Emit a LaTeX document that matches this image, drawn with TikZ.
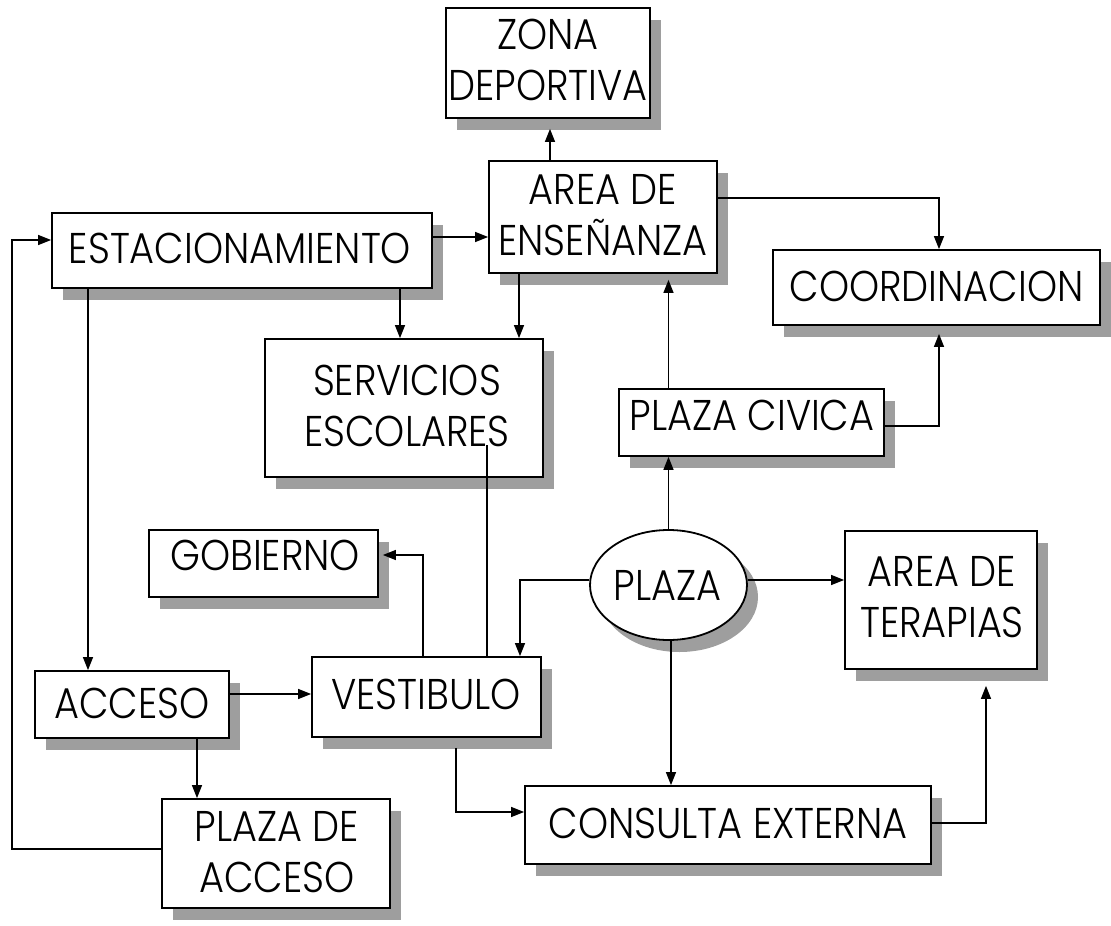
\documentclass[tikz,border=0pt]{standalone}
\usepackage{fontspec}
\setmainfont{Poppins}[FakeStretch=0.89, UprightFont=* Light]
\usetikzlibrary{arrows.meta,shadows,shapes.geometric,calc}
\begin{document}
\begin{tikzpicture}[x=1pt,y=-1pt,
  box/.style={draw, line width=1.8pt, fill=white, inner sep=0pt,
    drop shadow={shadow xshift=11pt, shadow yshift=-12pt, fill=black!38, opacity=1}},
  oval/.style={box, ellipse},
  txt/.style={inner sep=0pt, align=center, anchor=base, font=\fontsize{43pt}{51pt}\selectfont},
  arr/.style={draw, line width=1.3pt, -{Triangle[length=13pt,width=10pt]}},
  ln/.style={draw, line width=1.3pt}]
\useasboundingbox (0,0) rectangle (1111,926);

% boxes
\node[box, minimum width=204pt, minimum height=110pt] (zona) at (548,63) {};
\node[box, minimum width=228pt, minimum height=112pt] (area) at (603,217) {};
\node[box, minimum width=380pt, minimum height=75pt] (estac) at (242,250.5) {};
\node[box, minimum width=327pt, minimum height=75pt] (coord) at (936.5,287.5) {};
\node[box, minimum width=278pt, minimum height=138pt] (serv) at (404,408) {};
\node[box, minimum width=265pt, minimum height=67pt] (civica) at (751.5,422.5) {};
\node[box, minimum width=229pt, minimum height=67pt] (gob) at (263.5,563.5) {};
\node[oval, minimum width=157pt, minimum height=110pt] (plaza) at (668.5,585) {};
\node[box, minimum width=192pt, minimum height=138pt] (terap) at (941,600) {};
\node[box, minimum width=194pt, minimum height=67pt] (acceso) at (132,704.5) {};
\node[box, minimum width=229pt, minimum height=80pt] (vest) at (426.5,697) {};
\node[box, minimum width=228pt, minimum height=109pt] (placc) at (276,853.5) {};
\node[box, minimum width=406pt, minimum height=78pt] (cons) at (728,825) {};

% texts (multi-line: anchor at last baseline)
\node[txt] (zona-t) at (548,100) {ZONA\\DEPORTIVA};
\node[txt] (area-t) at (603,255) {AREA DE\\ENSEÑANZA};
\node[txt] (estac-t) at (240,263) {ESTACIONAMIENTO};
\node[txt] (coord-t) at (936.5,301) {COORDINACION};
\node[txt] (serv-t) at (407,446) {SERVICIOS\\ESCOLARES};
\node[txt] (civica-t) at (752,430) {PLAZA CIVICA};
\node[txt] (gob-t) at (265,570) {GOBIERNO};
\node[txt] (plaza-t) at (667.5,600) {PLAZA};
\node[txt] (terap-t) at (942,637) {AREA DE\\TERAPIAS};
\node[txt] (acceso-t) at (132,718) {ACCESO};
\node[txt] (vest-t) at (426,709) {VESTIBULO};
\node[txt] (placc-t) at (277,892) {PLAZA DE\\ACCESO};
\node[txt] (cons-t) at (728,838) {CONSULTA EXTERNA};

\coordinate (lft) at (12,0);

% connectors
\draw[arr] ([xshift=-53pt]area.north) -- ([xshift=2pt,yshift=-10pt]zona.south);
\draw[arr] ([yshift=13.5pt]estac.east) -- ([yshift=13.5pt]estac.east -| area.west);
\draw[arr] ([yshift=19pt]area.east) -| ([xshift=2.5pt]coord.north);
\draw[arr] ([yshift=-3.5pt]civica.east) -| ([xshift=2.5pt,yshift=-8pt]coord.south);
\draw[arr] (plaza.north) -- (plaza.north |- civica.south);
\draw[arr] (civica.north -| plaza.north) -- ([yshift=-6pt]area.south -| plaza.north);
\draw[arr] ([xshift=158pt]estac.south) -- ([xshift=158pt]estac.south |- serv.north);
\draw[arr] ([xshift=-84pt]area.south) -- ([xshift=-84pt]area.south |- serv.north);
\draw[arr] ([xshift=-154pt]estac.south) -- ([xshift=-154pt]estac.south |- acceso.north);
\draw[arr] ([yshift=4.5pt]placc.west) -| ([yshift=10.5pt]estac.west -| lft) -- ([yshift=10.5pt]estac.west);
\draw[arr] ([xshift=65pt]acceso.south) -- ([xshift=65pt]acceso.south |- placc.north);
\draw[arr] ([yshift=10.5pt]acceso.east) -- ([yshift=10.5pt]acceso.east -| vest.west);
\draw[arr] ([xshift=-3.5pt]vest.north) |- ([xshift=4pt,yshift=8.5pt]gob.east);
\draw[ln] ([xshift=60.5pt]vest.north) -- ([xshift=83pt,yshift=-37pt]serv.center);
\draw[arr] ([yshift=5pt]plaza.west) -| ([xshift=93.5pt]vest.north);
\draw[arr] ([yshift=5pt]plaza.east) -- ([yshift=5pt]plaza.east -| terap.west);
\draw[arr] ([xshift=2.5pt]plaza.south) -- ([xshift=2.5pt]plaza.south |- cons.north);
\draw[arr] ([xshift=29.5pt,yshift=-10pt]vest.south) |- ([yshift=13pt]cons.west);
\draw[arr] ([yshift=2pt]cons.east) -| ([xshift=45pt,yshift=-16pt]terap.south);
\end{tikzpicture}
\end{document}
